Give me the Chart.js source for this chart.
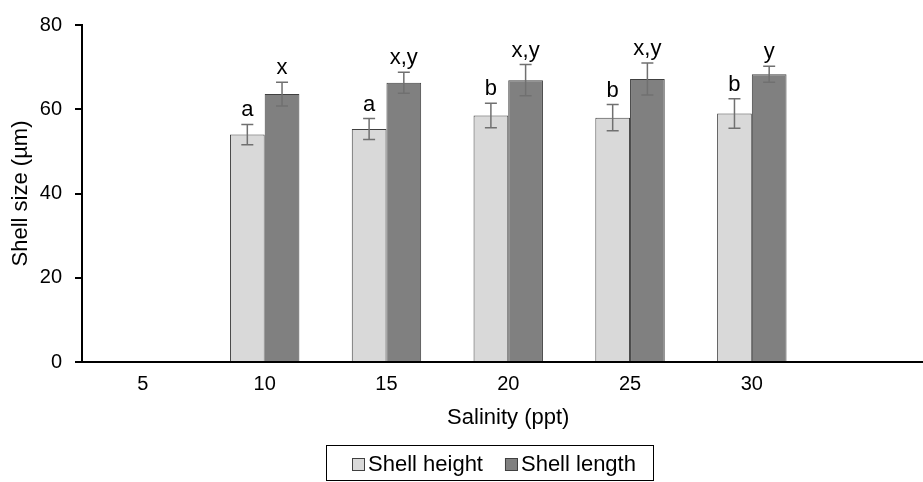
<!DOCTYPE html>
<html>
<head>
<meta charset="utf-8">
<script src="https://cdn.jsdelivr.net/npm/chart.js@4"></script>
<style>
  html, body { margin: 0; padding: 0; background: #fff; overflow: hidden; }
  #wrap { width: 923px; height: 482px; overflow: hidden; }
</style>
</head>
<body>
<div id="wrap"><canvas id="chart" width="980" height="482"></canvas></div>
<script>
// values (µm); the last category is an empty slot
const salinity = ['5', '10', '15', '20', '25', '30', ''];
const shellHeight = [null, 54.0, 55.3, 58.5, 58.0, 59.0, null];
const shellHeightErr = [null, 2.4, 2.5, 2.9, 3.1, 3.5, null];
const shellLength = [null, 63.6, 66.3, 66.9, 67.2, 68.3, null];
const shellLengthErr = [null, 2.8, 2.5, 3.7, 3.8, 1.9, null];
const heightLetters = ['', 'a', 'a', 'b', 'b', 'b', ''];
const lengthLetters = ['', 'x', 'x,y', 'x,y', 'x,y', 'y', ''];
const yTicks = [0, 20, 40, 60, 80];

const FONT = 'Liberation Sans, Arial, sans-serif';

// error bars + significance letters
const errorBars = {
    id: 'errorBars',
    afterDatasetsDraw(chart) {
        const ctx = chart.ctx;
        const y = chart.scales.y;
        chart.data.datasets.forEach((ds, di) => {
            const meta = chart.getDatasetMeta(di);
            meta.data.forEach((bar, i) => {
                const v = ds.data[i];
                if (v == null) return;
                const e = ds.errors[i];
                const top = y.getPixelForValue(v + e);
                const bot = y.getPixelForValue(v - e);
                ctx.save();
                ctx.strokeStyle = '#707070';
                ctx.lineWidth = 1.5;
                ctx.beginPath();
                ctx.moveTo(bar.x, top); ctx.lineTo(bar.x, bot);
                ctx.moveTo(bar.x - 6, top); ctx.lineTo(bar.x + 6, top);
                ctx.moveTo(bar.x - 6, bot); ctx.lineTo(bar.x + 6, bot);
                ctx.stroke();
                ctx.fillStyle = '#000';
                ctx.font = '22px ' + FONT;
                ctx.textAlign = 'center';
                ctx.textBaseline = 'alphabetic';
                ctx.fillText(ds.letters[i], bar.x, top - 8);
                ctx.restore();
            });
        });
    }
};

// boxed legend under the axis title
const boxLegend = {
    id: 'boxLegend',
    afterDraw(chart) {
        const ctx = chart.ctx;
        ctx.save();
        ctx.strokeStyle = '#000';
        ctx.lineWidth = 1;
        ctx.strokeRect(326.5, 445.5, 327, 35);
        ctx.font = '22px ' + FONT;
        ctx.textBaseline = 'alphabetic';
        ctx.textAlign = 'left';
        let x = 352;
        chart.data.datasets.forEach(ds => {
            ctx.fillStyle = ds.backgroundColor;
            ctx.fillRect(x, 458, 13, 13);
            ctx.strokeStyle = '#404040';
            ctx.strokeRect(x + 0.5, 458.5, 12, 12);
            ctx.fillStyle = '#000';
            ctx.fillText(ds.label, x + 16, 471);
            x += 16 + ctx.measureText(ds.label).width + 22;
        });
        ctx.restore();
    }
};

new Chart(document.getElementById('chart'), {
    type: 'bar',
    data: {
        labels: salinity,
        datasets: [{
            label: 'Shell height',
            data: shellHeight,
            errors: shellHeightErr,
            letters: heightLetters,
            backgroundColor: '#d9d9d9',
            borderColor: '#404040',
            borderWidth: 1
        }, {
            label: 'Shell length',
            data: shellLength,
            errors: shellLengthErr,
            letters: lengthLetters,
            backgroundColor: '#808080',
            borderColor: '#404040',
            borderWidth: 1
        }]
    },
    options: {
        responsive: false,
        animation: false,
        devicePixelRatio: 1,
        categoryPercentage: 0.57,
        barPercentage: 1.0,
        layout: { padding: { top: 17, left: 0, right: 45.5, bottom: 0 } },
        plugins: {
            legend: { display: false },
            tooltip: { enabled: false }
        },
        scales: {
            x: {
                grid: { display: false, drawTicks: false },
                border: { display: true, color: '#000', width: 2 },
                ticks: { color: '#000', font: { family: FONT, size: 20 }, padding: 10, maxRotation: 0 },
                title: {
                    display: true, text: 'Salinity (ppt)', color: '#000',
                    font: { family: FONT, size: 22 }, padding: { bottom: 51 }
                },
                afterFit(scale) { scale.height = 120; }
            },
            y: {
                min: 0, max: 80,
                afterBuildTicks(scale) { scale.ticks = yTicks.map(v => ({ value: v })); },
                grid: { drawOnChartArea: false, drawTicks: true, tickLength: 7, color: '#000', lineWidth: 2 },
                border: { display: true, color: '#000', width: 2 },
                ticks: { color: '#000', font: { family: FONT, size: 20 }, padding: 13 },
                title: {
                    display: true, text: 'Shell size (µm)', color: '#000',
                    font: { family: FONT, size: 22 }, padding: { top: 8 }
                },
                afterFit(scale) { scale.width = 82; }
            }
        }
    },
    plugins: [errorBars, boxLegend]
});
</script>
</body>
</html>
